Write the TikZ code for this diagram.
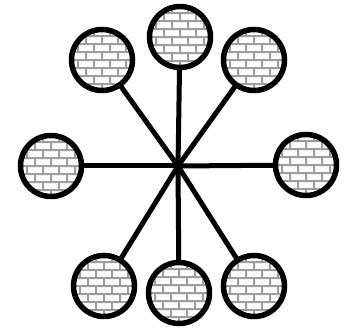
\documentclass[tikz,border=0pt]{standalone}
\usetikzlibrary{backgrounds}
\definecolor{mortar}{gray}{0.62}
\definecolor{brickfill}{gray}{0.95}
\tikzset{
  brickball/.style={circle, draw=black, line width=5.5pt, minimum size=61pt, inner sep=0pt, fill=white,
    path picture={
      \begin{scope}[shift={(path picture bounding box.center)}]
        \fill[mortar] (-40,-40) rectangle (40,40);
        \foreach \r in {0,...,9}{
          \pgfmathsetmacro{\yy}{-40+8*\r}
          \pgfmathsetmacro{\off}{mod(\r,2)*8}
          \foreach \k in {0,...,6}{
            \pgfmathsetmacro{\xx}{-48+16*\k+\off}
            \fill[brickfill] (\xx+1.4,\yy+1.4) rectangle (\xx+14.6,\yy+6.6);
            \fill[white] (\xx+2.2,\yy+2.2) rectangle (\xx+14.6,\yy+6.6);
          }
        }
      \end{scope}
    }},
  spoke/.style={line width=5pt, black}
}
\begin{document}
\begin{tikzpicture}[x=1pt,y=-1pt]
\useasboundingbox (0,0) rectangle (354,328);
\coordinate (c) at (178,166);
\node[brickball] (t) at (180,37) {};
\node[brickball] (ul) at (102,60) {};
\node[brickball] (ur) at (254,60) {};
\node[brickball] (l) at (51,166) {};
\node[brickball] (r) at (306,165) {};
\node[brickball] (bl) at (104,286) {};
\node[brickball] (b) at (179,293) {};
\node[brickball] (br) at (254,286) {};
\begin{scope}[on background layer]
  \foreach \n in {t,ul,ur,l,r,bl,b,br}{
    \draw[spoke] (c) -- (\n.center);
  }
\end{scope}
\end{tikzpicture}
\end{document}
